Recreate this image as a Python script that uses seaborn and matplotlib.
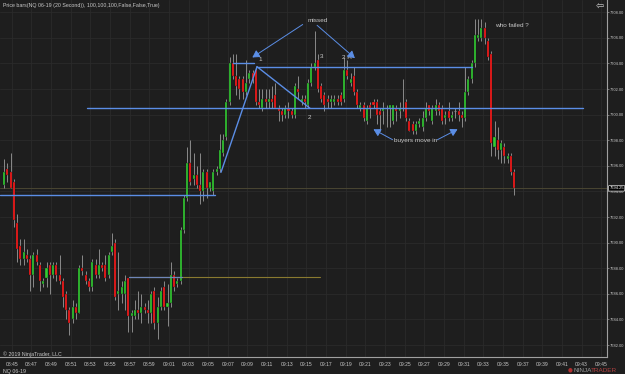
import numpy as np
import pandas as pd
import matplotlib
matplotlib.use("Agg")
import matplotlib.pyplot as plt
import matplotlib.transforms as mtransforms
from matplotlib import font_manager
import seaborn as sns

# ---------------- data (20 second NQ bars) ----------------
opens = [7694.5, 7695.75, 7695.5, 7694.75, 7691.5, 7689.75, 7688.75, 7689.0, 7688.75, 7687.5,
         7689.0, 7688.25, 7686.75, 7687.25, 7688.25, 7687.5, 7688.25, 7687.5, 7687.0, 7686.0,
         7684.75, 7684.0, 7685.0, 7684.5, 7688.0, 7687.5, 7687.0, 7686.5, 7688.25, 7687.5,
         7688.25, 7688.25, 7687.5, 7689.25, 7690.0, 7686.0, 7686.0, 7686.0, 7687.25, 7684.25,
         7684.25, 7684.75, 7684.5, 7685.0, 7684.75, 7684.5, 7686.25, 7683.75, 7685.0, 7686.5,
         7685.0, 7685.25, 7687.5, 7686.75, 7687.0, 7691.0, 7693.5, 7696.25, 7695.0, 7695.25,
         7694.5, 7694.0, 7695.5, 7694.25, 7694.0, 7695.5, 7695.75, 7697.0, 7698.25, 7701.0,
         7704.0, 7703.0, 7702.75, 7702.75, 7701.75, 7702.75, 7703.25, 7703.5, 7701.0, 7700.5,
         7701.25, 7701.0, 7701.25, 7701.5, 7700.5, 7700.25, 7700.0, 7700.5, 7700.25, 7700.0,
         7702.0, 7701.0, 7701.25, 7700.75, 7702.5, 7703.75, 7704.25, 7702.25, 7701.5, 7701.25,
         7701.0, 7701.0, 7701.25, 7701.5, 7701.25, 7703.5, 7702.5, 7703.0, 7701.75, 7700.5,
         7700.75, 7699.5, 7700.75, 7701.0, 7701.0, 7700.25, 7700.25, 7700.5, 7700.5, 7699.5,
         7700.5, 7700.25, 7700.5, 7701.0, 7699.5, 7699.25, 7698.75, 7699.25, 7699.0, 7699.75,
         7700.75, 7699.5, 7700.25, 7700.75, 7700.5, 7699.75, 7700.25, 7699.75, 7700.25, 7700.25,
         7700.0, 7699.75, 7701.75, 7702.75, 7704.0, 7706.0, 7706.0, 7706.75, 7705.75, 7704.75,
         7697.5, 7698.0, 7697.25, 7697.5, 7696.5, 7696.75, 7695.5]
highs = [7696.5, 7696.25, 7697.0, 7695.0, 7692.25, 7690.25, 7690.25, 7689.5, 7689.0, 7689.25,
         7689.5, 7688.5, 7687.25, 7688.5, 7688.5, 7688.5, 7688.5, 7689.0, 7687.25, 7686.25,
         7685.0, 7685.5, 7685.25, 7688.25, 7689.0, 7687.75, 7687.25, 7688.75, 7688.75, 7689.5,
         7688.5, 7689.0, 7689.25, 7690.75, 7690.25, 7689.25, 7687.0, 7687.5, 7687.25, 7684.75,
         7685.5, 7686.25, 7686.0, 7685.25, 7685.5, 7686.25, 7686.5, 7685.75, 7686.5, 7687.0,
         7686.75, 7688.5, 7687.75, 7687.25, 7691.25, 7693.75, 7697.5, 7698.0, 7697.0, 7696.0,
         7697.0, 7695.75, 7695.75, 7694.75, 7695.75, 7696.0, 7698.5, 7698.5, 7701.25, 7704.5,
         7704.75, 7704.75, 7703.0, 7703.0, 7704.25, 7703.5, 7703.5, 7703.75, 7702.0, 7702.0,
         7702.0, 7702.0, 7702.25, 7702.5, 7700.75, 7700.5, 7700.75, 7701.0, 7700.5, 7702.5,
         7703.0, 7701.5, 7701.5, 7702.75, 7704.0, 7706.5, 7704.75, 7702.5, 7701.75, 7701.5,
         7701.5, 7701.5, 7701.5, 7701.75, 7704.5, 7704.25, 7703.25, 7703.75, 7702.0, 7701.0,
         7701.0, 7700.75, 7701.0, 7701.25, 7701.25, 7700.5, 7701.0, 7700.75, 7700.75, 7700.75,
         7700.75, 7701.0, 7702.75, 7701.25, 7699.75, 7699.5, 7699.5, 7699.75, 7700.25, 7701.0,
         7700.75, 7700.75, 7701.25, 7701.0, 7700.75, 7700.25, 7701.0, 7700.25, 7700.5, 7701.0,
         7700.25, 7703.75, 7703.0, 7704.25, 7707.5, 7707.5, 7707.5, 7707.25, 7706.0, 7705.0,
         7699.5, 7699.0, 7698.0, 7697.75, 7697.0, 7697.0, 7695.75]
lows = [7694.25, 7694.75, 7694.25, 7691.25, 7688.5, 7688.25, 7688.25, 7688.5, 7686.25, 7686.5,
        7688.25, 7686.25, 7686.5, 7686.5, 7686.0, 7687.25, 7687.0, 7686.75, 7685.0, 7684.0,
        7682.75, 7683.75, 7684.0, 7684.5, 7687.5, 7686.75, 7686.25, 7686.25, 7687.25, 7687.25,
        7687.75, 7687.0, 7687.25, 7689.0, 7685.5, 7684.75, 7685.25, 7684.75, 7683.0, 7683.0,
        7684.0, 7684.0, 7683.75, 7684.5, 7683.75, 7683.75, 7683.25, 7682.5, 7684.75, 7684.75,
        7683.5, 7685.0, 7686.25, 7686.5, 7686.75, 7690.75, 7693.25, 7694.5, 7694.5, 7694.25,
        7693.0, 7693.25, 7693.5, 7694.0, 7693.75, 7695.25, 7695.5, 7696.75, 7698.0, 7700.75,
        7702.75, 7701.5, 7701.25, 7701.25, 7701.5, 7702.5, 7702.5, 7700.75, 7700.5, 7700.25,
        7700.5, 7700.5, 7700.5, 7700.5, 7699.5, 7699.5, 7699.75, 7699.75, 7699.75, 7699.75,
        7701.25, 7700.75, 7700.5, 7700.5, 7702.25, 7703.5, 7701.75, 7701.0, 7700.25, 7700.5,
        7700.5, 7700.75, 7700.75, 7700.75, 7701.0, 7702.75, 7702.25, 7701.5, 7700.5, 7700.25,
        7699.5, 7699.25, 7699.75, 7700.5, 7699.25, 7698.75, 7699.25, 7699.0, 7699.0, 7699.25,
        7699.5, 7699.75, 7700.25, 7699.5, 7698.75, 7698.5, 7698.5, 7699.0, 7698.75, 7699.5,
        7700.0, 7699.25, 7700.0, 7700.0, 7699.25, 7699.25, 7699.5, 7699.5, 7699.75, 7699.5,
        7699.0, 7699.5, 7701.5, 7702.5, 7703.75, 7705.75, 7705.75, 7705.5, 7704.25, 7696.75,
        7696.75, 7696.5, 7696.25, 7696.25, 7696.25, 7695.25, 7693.75]
closes = [7695.5, 7695.25, 7694.25, 7691.75, 7689.5, 7688.75, 7689.25, 7688.75, 7687.5, 7689.0,
          7688.5, 7687.0, 7687.0, 7688.0, 7687.5, 7688.25, 7687.5, 7687.0, 7685.75, 7684.75,
          7683.75, 7685.0, 7684.5, 7688.0, 7687.75, 7687.0, 7686.5, 7688.5, 7687.5, 7688.25,
          7688.0, 7687.25, 7689.0, 7689.75, 7685.75, 7686.25, 7686.5, 7687.0, 7684.25, 7684.5,
          7684.75, 7684.5, 7685.0, 7684.75, 7684.5, 7686.0, 7683.75, 7685.0, 7686.25, 7685.0,
          7685.25, 7687.5, 7686.5, 7687.0, 7691.0, 7693.5, 7696.25, 7694.75, 7695.25, 7694.5,
          7694.0, 7695.5, 7694.25, 7694.75, 7695.5, 7695.75, 7697.25, 7698.0, 7701.0, 7704.0,
          7703.0, 7702.25, 7702.0, 7701.75, 7702.5, 7703.25, 7702.75, 7701.0, 7700.75, 7701.25,
          7701.0, 7701.25, 7701.0, 7700.5, 7700.25, 7700.0, 7700.5, 7700.25, 7700.0, 7702.25,
          7701.75, 7701.25, 7701.0, 7702.5, 7703.75, 7704.0, 7702.0, 7701.25, 7700.75, 7701.0,
          7701.25, 7701.25, 7701.0, 7701.0, 7703.5, 7703.0, 7702.75, 7701.75, 7700.75, 7700.75,
          7699.75, 7700.5, 7700.5, 7700.75, 7700.0, 7700.0, 7700.5, 7700.5, 7700.75, 7700.75,
          7700.25, 7700.5, 7700.5, 7699.75, 7698.75, 7698.75, 7699.25, 7699.5, 7699.75, 7700.5,
          7700.25, 7700.5, 7700.75, 7700.25, 7699.5, 7700.0, 7699.75, 7700.0, 7700.25, 7700.0,
          7699.75, 7701.75, 7702.75, 7704.0, 7706.25, 7706.25, 7706.75, 7706.0, 7704.5, 7697.75,
          7698.25, 7697.25, 7697.75, 7696.75, 7696.75, 7695.5, 7694.25]

time_labels = ["08:45", "08:47", "08:49", "08:51", "08:53", "08:55", "08:57", "08:59",
               "09:01", "09:03", "09:05", "09:07", "09:09", "09:11", "09:13", "09:15",
               "09:17", "09:19", "09:21", "09:23", "09:25", "09:27", "09:29", "09:31",
               "09:33", "09:35", "09:37", "09:39", "09:41", "09:43", "09:45"]
price_ticks = [7708, 7706, 7704, 7702, 7700, 7698, 7696, 7694, 7692, 7690, 7688, 7686, 7684, 7682]
last_price = 7694.25

# ---------------- style ----------------
BG = "#1e1e1e"
GRID = "#2b2b2b"
TXT = "#c8c8c8"
UP = "#32cd32"
DOWN = "#ff1a1a"
WICK = "#8a8a8a"
BLUE = "#5b8ee6"

sns.set_theme(style="dark", rc={"axes.facecolor": BG, "figure.facecolor": BG,
                                "savefig.facecolor": BG, "axes.edgecolor": "#9a9a9a",
                                "text.color": TXT, "xtick.color": TXT, "ytick.color": TXT})
names = {f.name for f in font_manager.fontManager.ttflist}
NARROW = "Liberation Sans Narrow" if "Liberation Sans Narrow" in names else "Liberation Sans"
plt.rcParams["font.family"] = [NARROW, "DejaVu Sans"]

df = pd.DataFrame({"open": opens, "high": highs, "low": lows, "close": closes})
df["bar"] = np.arange(len(df))
df["lo_body"] = df[["open", "close"]].min(axis=1)
df["h_body"] = (df["close"] - df["open"]).abs()
up = df[df.close > df.open]
down = df[df.close < df.open]
doji = df[df.close == df.open]

W, H = 625, 374
fig = plt.figure(figsize=(W / 100, H / 100), dpi=100)
ax = fig.add_axes([0, 17 / H, 607 / W, 357 / H])

# x in bar units: bar i at pixel 4 + 3.27 i
px = 3.27
x0 = -4 / px
ax.set_xlim(x0, x0 + 607 / px)
ax.set_ylim(7681.07, 7708.96)

xt = [2.35 + 6.009 * k for k in range(len(time_labels))]
ax.set_xticks(xt)
ax.set_xticklabels(time_labels)
ax.set_yticks(price_ticks)
ax.set_yticklabels([f"{v:.2f}" for v in price_ticks])
ax.yaxis.tick_right()
ax.grid(True, color=GRID, lw=0.6)
ax.set_axisbelow(True)
ax.tick_params(axis="x", length=2, width=0.5, color="#9a9a9a", labelsize=3.6,
               labelcolor=TXT, pad=1.5)
ax.tick_params(axis="y", length=1.5, width=0.5, color="#9a9a9a", labelsize=2.9,
               labelcolor=TXT, pad=0.8)
for s in ["top", "left"]:
    ax.spines[s].set_visible(False)
for s in ["bottom", "right"]:
    ax.spines[s].set_color("#a0a0a0")
    ax.spines[s].set_linewidth(0.8)

# current price line
ax.axhline(last_price, color="#4a4632", lw=0.7, zorder=1)

# candles
bw = 0.62
ax.vlines(df.bar, df.low, df.high, color=WICK, lw=0.7, zorder=2)
ax.bar(up.bar, up.h_body, bottom=up.lo_body, width=bw, color=UP, edgecolor="#161616",
       linewidth=0.25, zorder=3)
ax.bar(down.bar, down.h_body, bottom=down.lo_body, width=bw, color=DOWN, edgecolor="#161616",
       linewidth=0.25, zorder=3)
ax.hlines(doji.close, doji.bar - bw / 2, doji.bar + bw / 2, color=WICK, lw=0.8, zorder=3)

# ---------------- drawing objects ----------------
def bx(p):
    return (p - 4) / px

def py(y):
    return 7708 - (y - 12.3) / 12.8

lw = 1.0
ax.plot([bx(87), bx(583)], [7700.5, 7700.5], color=BLUE, lw=lw, zorder=4)
ax.plot([bx(0), bx(215)], [7693.75, 7693.75], color=BLUE, lw=lw, zorder=4)
ax.plot([bx(257), bx(472)], [7703.75, 7703.75], color=BLUE, lw=lw, zorder=4)
ax.plot([bx(233), bx(254)], [7704.0, 7704.0], color=BLUE, lw=lw, zorder=4)
ax.plot([bx(257), bx(310)], [7703.75, 7700.5], color=BLUE, lw=lw, zorder=4)
ax.plot([bx(257), bx(221)], [7703.75, 7695.5], color=BLUE, lw=lw, zorder=4)
ax.plot([bx(129), bx(320)], [7687.35, 7687.35], color="#8a7a30", lw=0.8, zorder=4)
ax.plot([bx(129), bx(182)], [7687.35, 7687.35], color="#6f86b8", lw=0.9, zorder=4)

arrow_kw = dict(arrowstyle="-|>,head_length=0.35,head_width=0.2", color=BLUE, lw=0.7)
for (xa, ya), (xb, yb) in [((305, 23), (250, 59)), ((315, 23.5), (357, 60)),
                           ((395, 141), (371, 128)), ((435, 141), (460, 128))]:
    ax.annotate("", xy=(bx(xb), py(yb)), xytext=(bx(xa), py(ya)),
                arrowprops=arrow_kw, zorder=5)

tfs = 4.6
ax.text(bx(318), py(21), "missed", fontsize=tfs, color=TXT, ha="center", va="center")
ax.text(bx(260), py(60), "1", fontsize=tfs, color=TXT, ha="center", va="center")
ax.text(bx(309), py(118), "2", fontsize=tfs, color=TXT, ha="center", va="center")
ax.text(bx(322), py(57), "3", fontsize=tfs, color=TXT, ha="center", va="center")
ax.text(bx(347), py(58), "2 H", fontsize=tfs, color=TXT, ha="center", va="center")
ax.text(bx(416), py(141), "buyers move in", fontsize=tfs, color=TXT, ha="center", va="center")
ax.text(bx(512), py(26), "who failed ?", fontsize=tfs, color=TXT, ha="center", va="center")

# price marker on right axis
trans = mtransforms.blended_transform_factory(ax.transAxes, ax.transData)
ax.text(1.004, last_price, f"{last_price:.2f}", transform=trans, fontsize=2.9, color="white",
        ha="left", va="center", zorder=10, clip_on=False,
        bbox=dict(boxstyle="round,pad=0.2", fc="black", ec="#dddddd", lw=0.5))

# figure texts
fig.text(3 / W, 1 - 5 / H, "Price bars(NQ 06-19 (20 Second)), 100,100,100,False,False,True)",
         fontsize=3.8, color=TXT, ha="left", va="center")
fig.text(3 / W, 1 - 354 / H, "\u00a9 2019 NinjaTrader, LLC", fontsize=3.8, color=TXT,
         ha="left", va="center")
fig.text(3 / W, 1 - 371 / H, "NQ 06-19", fontsize=3.8, color=TXT, ha="left", va="center")
fig.text(600 / W, 1 - 7 / H, "\u21e6", fontsize=7, color="#d0d0d0", ha="center", va="center",
         family="DejaVu Sans")
fig.text(570 / W, 1 - 370 / H, "\u25cf", fontsize=4, color="#b03030", ha="center", va="center",
         family="DejaVu Sans")
fig.text(574 / W, 1 - 370 / H, "NINJA", fontsize=4.6, color="#9a9a9a", ha="left", va="center")
fig.text(591 / W, 1 - 370 / H, "TRADER", fontsize=4.6, color="#b04040", ha="left", va="center")

fig.savefig("out.png", dpi=100, facecolor=BG)
